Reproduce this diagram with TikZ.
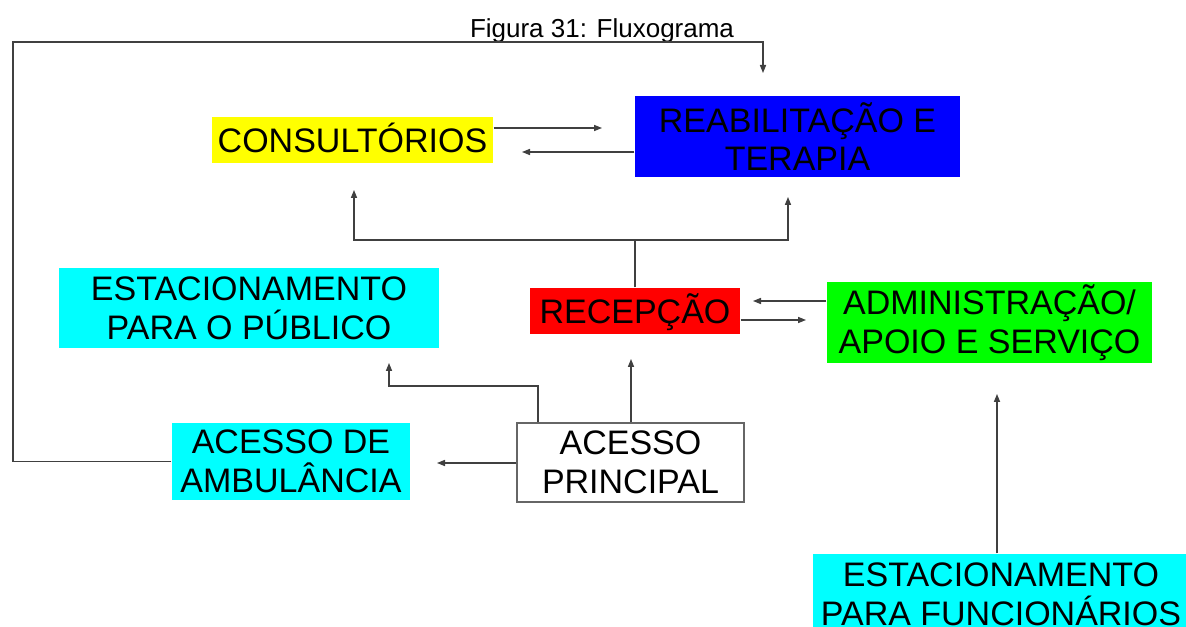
\documentclass[tikz,border=0pt]{standalone}
\usepackage{fontspec}
\setmainfont{Liberation Sans}
\usetikzlibrary{positioning}
\usetikzlibrary{arrows.meta}

\definecolor{ciano}{RGB}{0,255,255}
\definecolor{amarelo}{RGB}{255,255,0}
\definecolor{azul}{RGB}{0,0,255}
\definecolor{vermelho}{RGB}{255,0,0}
\definecolor{verde}{RGB}{0,255,0}

\begin{document}
\begin{tikzpicture}[>={Triangle[length=6pt,width=4.6pt]},x=0.75pt,y=-0.75pt,
                line width=0.9pt,color=black!75,
                area node/.style={inner sep=0pt,align=center,text=black,
                  font=\fontsize{25.5}{29}\selectfont},
                one line/.style={area node,text height=18.3pt,text depth=0pt},
                two lines/.style={area node}]

  \fill[white] (0,0) rectangle (1186,627);
  \useasboundingbox (0,0) rectangle (1186,627);
  \clip (0,0) rectangle (1186,627);

  \node[text=black,inner sep=0pt,font=\fontsize{19.5}{22}\selectfont,
        text height=14pt,text depth=0pt] (titulo) at (602,28) {Figura 31: Fluxograma};

  \node[one line,fill=amarelo,minimum width=210.75pt,minimum height=34.5pt] (cons) at (352.5,140) {CONSULTÓRIOS};
  \node[two lines,fill=azul,minimum width=243.75pt,minimum height=60.75pt] (reab) at (797.5,136.5) {REABILITAÇÃO E\\TERAPIA};
  \node[one line,fill=vermelho,minimum width=157.5pt,minimum height=34.5pt] (recep) at (635,311) {RECEPÇÃO};
  \node[two lines,fill=verde,minimum width=243.75pt,minimum height=60.75pt] (admin) at (989.5,322.5) {ADMINISTRAÇÃO/\\APOIO E SERVIÇO};
  \node[two lines,fill=ciano,minimum width=285pt,minimum height=60pt] (estpub) at (249,308) {ESTACIONAMENTO\\PARA O PÚBLICO};
  \node[two lines,fill=ciano,minimum width=178.5pt,minimum height=57.75pt] (amb) at (291,461.5) {ACESSO DE\\AMBULÂNCIA};
  \node[two lines,fill=white,draw=black!60,line width=0.8pt,minimum width=170.25pt,minimum height=59.25pt] (princ) at (630.5,462.5) {ACESSO\\PRINCIPAL};
  \node[two lines,fill=ciano,minimum width=282pt,minimum height=60pt] (func) at (1001,594) {ESTACIONAMENTO\\PARA FUNCIONÁRIOS};

  % free ends of the connectors
  \coordinate (a1) at (602,128);
  \coordinate (a2) at (522,152);
  \coordinate (j1) at (635,240);
  \coordinate (a3) at (354,190);
  \coordinate (a4) at (788,197);
  \coordinate (a5) at (753,301);
  \coordinate (a6) at (806,320);
  \coordinate (p1) at (538,386);
  \coordinate (a7) at (389,363);
  \coordinate (a8) at (631,359);
  \coordinate (a9) at (437,463);
  \coordinate (k1) at (13,42);
  \coordinate (a10) at (763,73);
  \coordinate (a11) at (997,394);

  \draw[->] (cons.east |- a1) -- (a1);
  \draw[->] (reab.west |- a2) -- (a2);
  \draw (recep.north) -- (j1);
  \draw[->] (j1) -| (a3);
  \draw[->] (j1) -| (a4);
  \draw[->] (admin.west |- a5) -- (a5);
  \draw[->] (recep.east |- a6) -- (a6);
  \draw[->] (p1 |- princ.north) -- (p1) -| (a7);
  \draw[->] (a8 |- princ.north) -- (a8);
  \draw[->] (princ.west |- a9) -- (a9);
  \draw[->] (amb.west) -| (k1) -| (a10);
  \draw[->] (a11 |- func.north) -- (a11);
\end{tikzpicture}
\end{document}
